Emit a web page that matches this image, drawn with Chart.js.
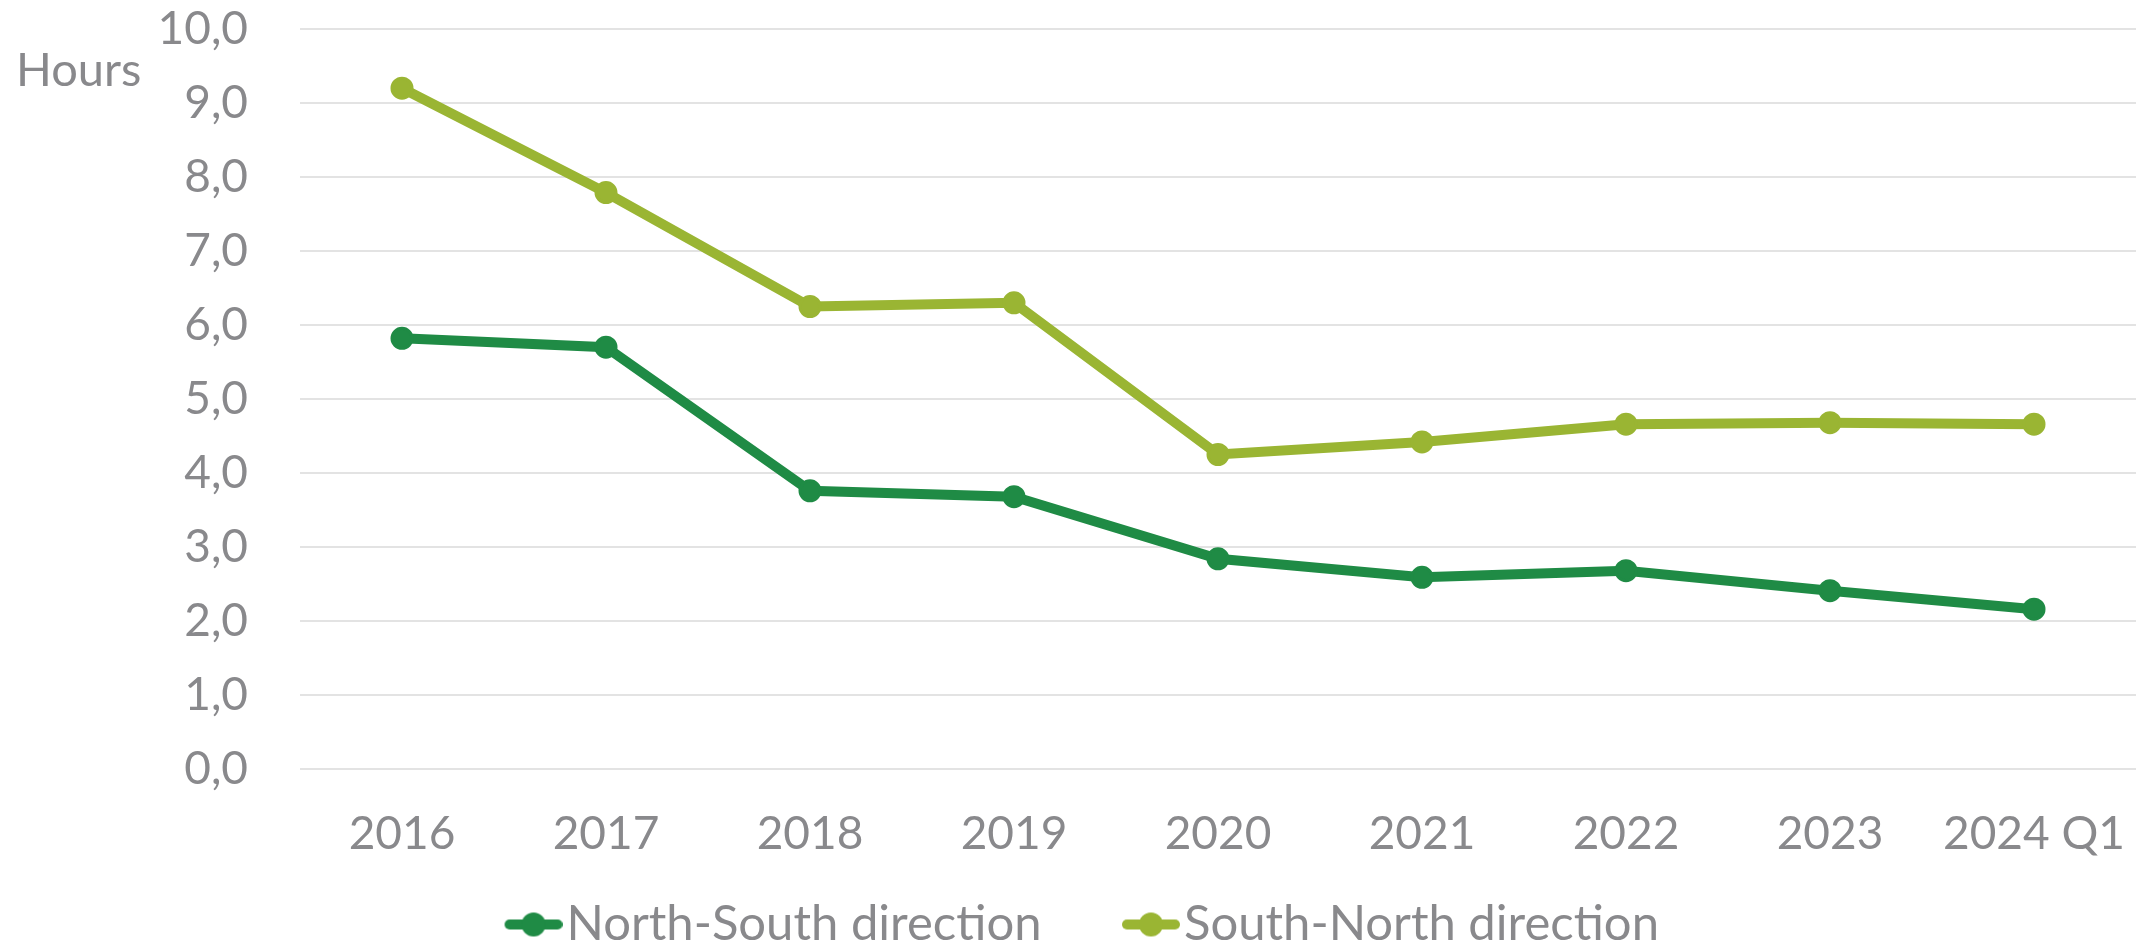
<!DOCTYPE html>
<html>
<head>
<meta charset="utf-8">
<script src="https://cdn.jsdelivr.net/npm/chart.js@4.4.1/dist/chart.umd.min.js"></script>
<style>
  body { margin: 0; background: #ffffff; }
  #wrap { width: 2149px; height: 946px; position: relative; }
</style>
</head>
<body>
<div id="wrap"><canvas id="lineChart"></canvas></div>
<script>
const labelsYears = ["2016", "2017", "2018", "2019", "2020", "2021", "2022", "2023", "2024 Q1"];
const northSouth = [5.82, 5.70, 3.76, 3.68, 2.84, 2.59, 2.68, 2.41, 2.16];
const southNorth = [9.20, 7.79, 6.25, 6.30, 4.25, 4.42, 4.66, 4.68, 4.66];
const yTickLabels = ["0,0", "1,0", "2,0", "3,0", "4,0", "5,0", "6,0", "7,0", "8,0", "9,0", "10,0"];
const seriesNames = ["North-South direction", "South-North direction"];

const textGrey = "#89898c";
const darkGreen = "#1f8b45";
const oliveGreen = "#9ab533";

// legend box is 78px wide, the visible marker sits at its right end
const legendBoxW = 78;

function legendMarker(color) {
  const c = document.createElement("canvas");
  c.width = legendBoxW + 41;
  c.height = 26;
  const g = c.getContext("2d");
  const x0 = c.width - 58;
  g.strokeStyle = color;
  g.lineWidth = 10;
  g.lineCap = "round";
  g.beginPath();
  g.moveTo(x0 + 5, 13);
  g.lineTo(x0 + 53, 13);
  g.stroke();
  g.fillStyle = color;
  g.beginPath();
  g.arc(x0 + 29, 13, 12, 0, Math.PI * 2);
  g.fill();
  return c;
}

const hoursLabel = {
  id: "hoursLabel",
  afterDraw(chart) {
    const ctx = chart.ctx;
    ctx.save();
    ctx.font = "47px Lato";
    ctx.fillStyle = textGrey;
    ctx.textAlign = "left";
    ctx.textBaseline = "middle";
    ctx.fillText("Hours", 16, 71);
    ctx.restore();
  },
};

const dataLine = {
  labels: labelsYears,
  datasets: [
    {
      label: seriesNames[0],
      data: northSouth,
      borderColor: darkGreen,
      backgroundColor: darkGreen,
      pointBackgroundColor: darkGreen,
      pointBorderColor: darkGreen,
    },
    {
      label: seriesNames[1],
      data: southNorth,
      borderColor: oliveGreen,
      backgroundColor: oliveGreen,
      pointBackgroundColor: oliveGreen,
      pointBorderColor: oliveGreen,
    },
  ],
};

const configLine = {
  type: "line",
  data: dataLine,
  plugins: [hoursLabel],
  options: {
    responsive: true,
    maintainAspectRatio: false,
    animation: false,
    layout: {
      padding: { top: 29, left: -19, right: 7, bottom: -13 },
    },
    elements: {
      line: { borderWidth: 10, tension: 0 },
      point: { radius: 10, borderWidth: 3, hoverRadius: 10 },
    },
    scales: {
      x: {
        offset: true,
        grid: {
          color: "rgba(0,0,0,0)",
          drawTicks: true,
          tickLength: 38,
          tickColor: "rgba(0,0,0,0)",
        },
        border: { display: false },
        afterFit: (scale) => {
          scale.height = 91;
        },
        ticks: {
          color: textGrey,
          padding: 0,
          maxRotation: 0,
          autoSkip: false,
          font: { family: "Lato", size: 46 },
        },
      },
      y: {
        min: 0,
        max: 10,
        border: { display: false },
        grid: {
          color: "#e3e3e3",
          lineWidth: 2,
          drawTicks: true,
          tickLength: 52,
          tickColor: "rgba(0,0,0,0)",
        },
        afterFit: (scale) => {
          scale.width = 319;
        },
        ticks: {
          stepSize: 1,
          color: textGrey,
          padding: 0,
          font: { family: "Lato", size: 46 },
          callback: (value, index) => yTickLabels[index],
        },
      },
    },
    plugins: {
      tooltip: { enabled: false },
      legend: {
        position: "bottom",
        labels: {
          color: textGrey,
          font: { family: "Lato", size: 49 },
          usePointStyle: true,
          pointStyleWidth: legendBoxW,
          padding: 40,
          generateLabels: (chart) =>
            chart.data.datasets.map((ds, i) => ({
              text: ds.label,
              fillStyle: ds.borderColor,
              strokeStyle: ds.borderColor,
              lineWidth: 0,
              pointStyle: legendMarker(ds.borderColor),
              fontColor: textGrey,
              hidden: false,
              datasetIndex: i,
            })),
        },
      },
    },
  },
};

var myLineChart = new Chart(document.getElementById("lineChart"), configLine);
</script>
</body>
</html>
